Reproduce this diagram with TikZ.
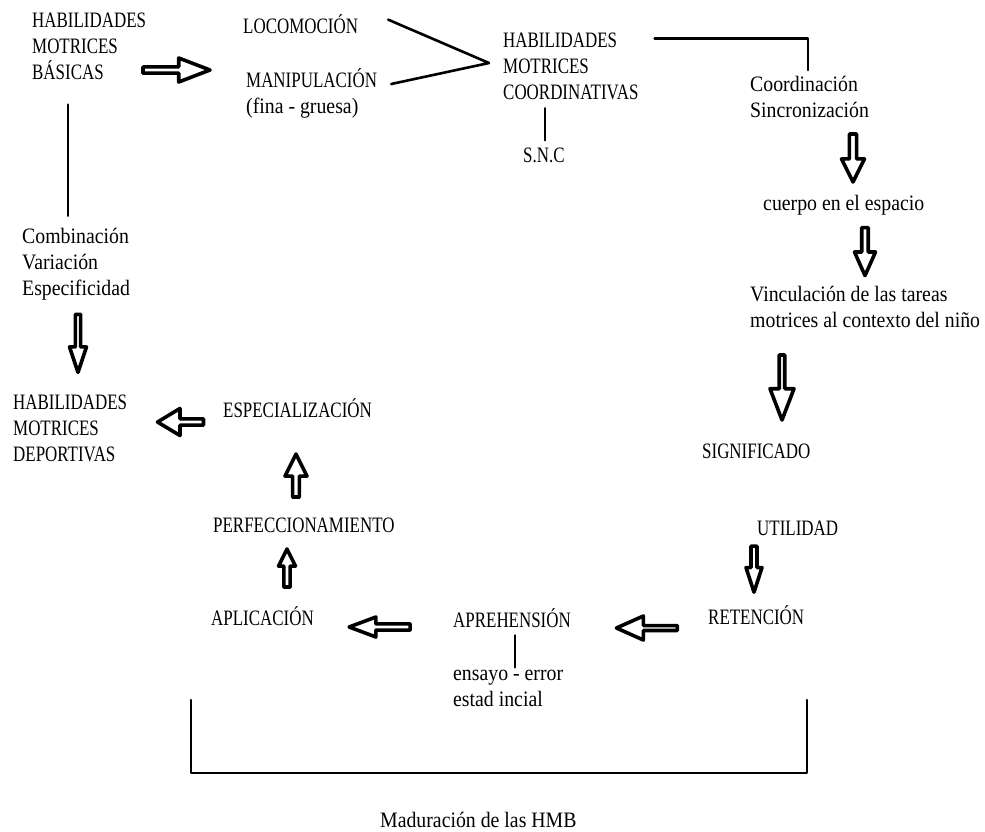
\documentclass[tikz,border=0pt]{standalone}
\usepackage{fontspec}
\setmainfont{Liberation Serif}
\newfontfamily\capsfont[FakeStretch=0.77]{Liberation Serif}
\newfontfamily\lowfont[FakeStretch=0.9]{Liberation Serif}
\usetikzlibrary{shapes.arrows,calc}

\begin{document}
\begin{tikzpicture}[x=1pt,y=-1pt,line cap=round,line join=round]
\path[fill=white,use as bounding box] (0,0) rectangle (985,831);
\tikzset{caps/.style={anchor=west,inner sep=0pt,align=left,font=\capsfont\fontsize{22}{26}\selectfont},low/.style={anchor=west,inner sep=0pt,align=left,font=\lowfont\fontsize{22}{26}\selectfont},link/.style={draw=black,line width=2.6pt},hollow/.style={single arrow,draw=black,fill=white,line width=3.6pt,inner sep=0pt,anchor=tip,single arrow head indent=0pt}}
% top row
\node[caps] (basicas) at (32,46) {HABILIDADES\\MOTRICES\\BÁSICAS};
\node[caps,anchor=base west] (loco) at (243,33) {LOCOMOCIÓN};
\node[caps] (manip) at (246,93) {MANIPULACIÓN\\{\lowfont (fina - gruesa)}};
\node[caps] (coordinat) at (503,66) {HABILIDADES\\MOTRICES\\COORDINATIVAS};
\node[caps,anchor=base west] (snc) at (523,162) {S.N.C};
\node[low] (coordin) at (750,97) {Coordinación\\Sincronización};
% right column
\node[low,anchor=base west] (cuerpo) at (763,210) {cuerpo en el espacio};
\node[low] (vincul) at (750,307) {Vinculación de las tareas\\motrices al contexto del niño};
\node[caps,anchor=base west] (signif) at (702,458) {SIGNIFICADO};
\node[caps,anchor=base west] (utilidad) at (757,535) {UTILIDAD};
\node[caps,anchor=base west] (retencion) at (708,624) {RETENCIÓN};
% bottom row
\node[caps,anchor=base west] (aprehension) at (453,627) {APREHENSIÓN};
\node[low] (ensayo) at (453,688) {ensayo - error\\estad incial};
\node[caps,anchor=base west] (aplicacion) at (211,625) {APLICACIÓN};
\node[caps,anchor=base west] (perfecc) at (213,532) {PERFECCIONAMIENTO};
\node[caps,anchor=base west] (especial) at (223,417) {ESPECIALIZACIÓN};
% left column
\node[caps] (deportivas) at (13,428) {HABILIDADES\\MOTRICES\\DEPORTIVAS};
\node[low] (combin) at (22,264) {Combinación\\Variación\\Especificidad};
\node[low,anchor=base west] (madur) at (380,827) {Maduración de las HMB};
% hollow arrows
\node[hollow,minimum height=67,minimum width=24,single arrow head extend=5,single arrow tip angle=42] (ar1) at (215,70) {};
\node[hollow,rotate=-90,minimum height=48,minimum width=23,single arrow head extend=4,single arrow tip angle=53] (ar2) at (853,186) {};
\node[hollow,rotate=-90,minimum height=48,minimum width=21,single arrow head extend=4,single arrow tip angle=48] (ar3) at (865,280) {};
\node[hollow,rotate=-90,minimum height=65,minimum width=24,single arrow head extend=6,single arrow tip angle=42] (ar4) at (782,425) {};
\node[hollow,rotate=-90,minimum height=46,minimum width=16,single arrow head extend=3,single arrow tip angle=36] (ar5) at (754,598) {};
\node[hollow,rotate=180,minimum height=61,minimum width=24,single arrow head extend=7,single arrow tip angle=48] (ar6) at (612,628) {};
\node[hollow,rotate=180,minimum height=61,minimum width=20,single arrow head extend=4,single arrow tip angle=41] (ar7) at (344,627) {};
\node[hollow,rotate=90,minimum height=38,minimum width=17,single arrow head extend=3,single arrow tip angle=53] (ar8) at (287,545) {};
\node[hollow,rotate=90,minimum height=43,minimum width=22,single arrow head extend=4,single arrow tip angle=53] (ar9) at (296,450) {};
\node[hollow,rotate=180,minimum height=46,minimum width=27,single arrow head extend=6,single arrow tip angle=62] (ar10) at (154,422) {};
\node[hollow,rotate=-90,minimum height=58,minimum width=17,single arrow head extend=4,single arrow tip angle=37] (ar11) at (78,378) {};
% plain lines
\coordinate (meet) at ($(coordinat.west)+(-14,-3)$);
\draw[link] ($(loco.east)+(30,-4)$) -- (meet) -- ($(manip.east)+(14,-9)$);
\draw[link] ($(coordinat.north east)+(16,6)$) -| ($(coordin.north west)+(58,-6)$);
\draw[link] ($(snc.north)+(1,-7)$) -- ++(0,-32);
\draw[link] ($(aprehension.south west)+(62,8)$) -- ++(0,32);
\draw[link] ($(basicas.south west)+(36,25)$) -- ($(combin.north west)+(46,-12)$);
\draw[link] (191,700) |- (807,773) -- (807,700);
\end{tikzpicture}
\end{document}
